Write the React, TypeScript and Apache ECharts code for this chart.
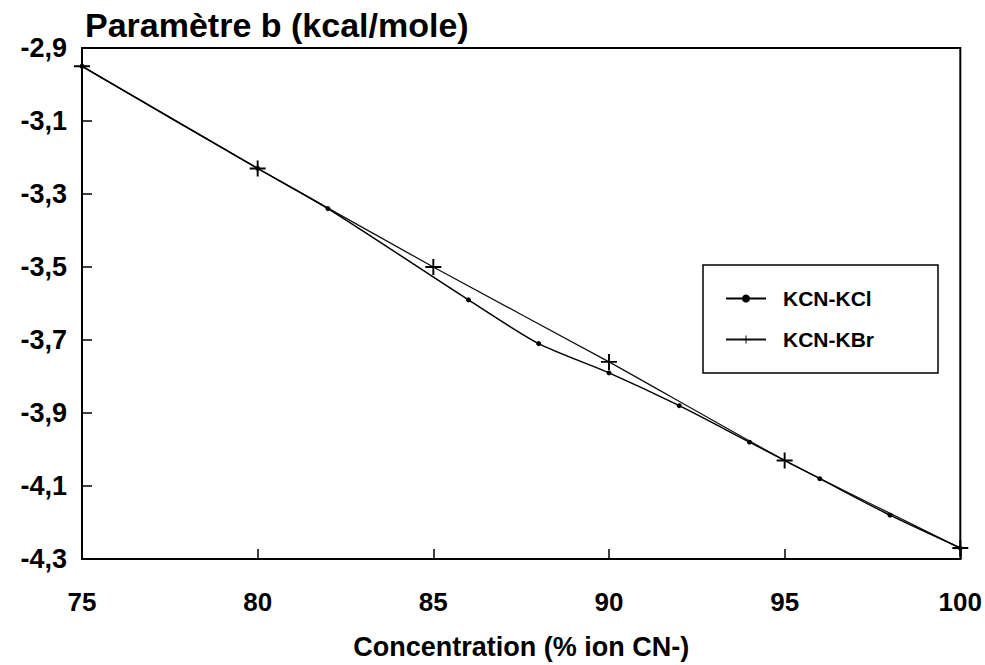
import React, { useEffect, useRef } from "react";
import * as echarts from "echarts";

const kclX = [75, 80, 82, 86, 88, 90, 92, 94, 96, 98, 100];
const kclY = [-2.95, -3.23, -3.34, -3.59, -3.71, -3.79, -3.88, -3.98, -4.08, -4.18, -4.27];
const kbrX = [75, 80, 85, 90, 95, 100];
const kbrY = [-2.95, -3.23, -3.5, -3.76, -4.03, -4.27];
const yTicks = [-4.3, -4.1, -3.9, -3.7, -3.5, -3.3, -3.1, -2.9];

const FONT = "'Liberation Sans', Arial, sans-serif";
const PLUS = "path://M0,4.4H10V5.6H0Z M4.4,0H5.6V10H4.4Z";

export default function App() {
  const ref = useRef<HTMLDivElement>(null);
  useEffect(() => {
    document.body.style.margin = "0";
    const chart = echarts.init(ref.current!, null, { renderer: "svg" });
    chart.setOption({
      animation: false,
      backgroundColor: "#ffffff",
      title: {
        text: "Paramètre b (kcal/mole)",
        left: 80,
        top: 3,
        textStyle: { fontFamily: FONT, fontSize: 34, fontWeight: "bold", color: "#000" },
      },
      grid: {
        left: 82,
        right: 22,
        top: 48,
        bottom: 95,
        show: true,
        borderColor: "#000",
        borderWidth: 2,
        containLabel: false,
      },
      legend: {
        orient: "vertical",
        left: 703,
        top: 265,
        padding: [23, 64, 23, 22],
        itemGap: 20,
        itemWidth: 40,
        itemHeight: 10,
        borderColor: "#000",
        borderWidth: 1.5,
        backgroundColor: "#fff",
        textStyle: { fontFamily: FONT, fontSize: 21, fontWeight: "bold", color: "#000", padding: [0, 0, 0, 12] },
        data: ["KCN-KCl", "KCN-KBr"],
      },
      xAxis: {
        type: "value",
        min: 75,
        max: 100,
        interval: 5,
        name: "Concentration (% ion CN-)",
        nameLocation: "middle",
        nameGap: 74,
        nameTextStyle: { fontFamily: FONT, fontSize: 27, fontWeight: "bold", color: "#000" },
        axisLine: { lineStyle: { color: "#000", width: 2 } },
        axisTick: { inside: true, length: 10, lineStyle: { color: "#000", width: 1.5 } },
        axisLabel: { fontFamily: FONT, fontSize: 26, fontWeight: "bold", color: "#000", margin: 30 },
        splitLine: { show: false },
      },
      yAxis: {
        type: "value",
        min: -4.3,
        max: -2.9,
        axisLine: { show: true, lineStyle: { color: "#000", width: 2 } },
        axisTick: {
          show: true,
          inside: true,
          length: 10,
          customValues: yTicks,
          lineStyle: { color: "#000", width: 1.5 },
        },
        axisLabel: {
          fontFamily: FONT,
          fontSize: 27,
          fontWeight: "bold",
          color: "#000",
          margin: 15,
          customValues: yTicks,
          formatter: (v: number) => v.toFixed(1).replace(".", ","),
        },
        splitLine: { show: false },
      },
      series: [
        {
          name: "KCN-KCl",
          type: "line",
          data: kclX.map((x, i) => [x, kclY[i]]),
          smooth: 0.25,
          symbol: "circle",
          symbolSize: 5,
          itemStyle: { color: "#000" },
          lineStyle: { color: "#000", width: 1.5 },
          z: 3,
        },
        {
          name: "KCN-KBr",
          type: "line",
          data: kbrX.map((x, i) => [x, kbrY[i]]),
          smooth: 0.15,
          symbol: PLUS,
          symbolSize: 16,
          itemStyle: { color: "#000" },
          lineStyle: { color: "#111", width: 1.3 },
          z: 2,
        },
      ],
    });
    return () => chart.dispose();
  }, []);
  return <div ref={ref} style={{ width: 985, height: 665 }} />;
}
